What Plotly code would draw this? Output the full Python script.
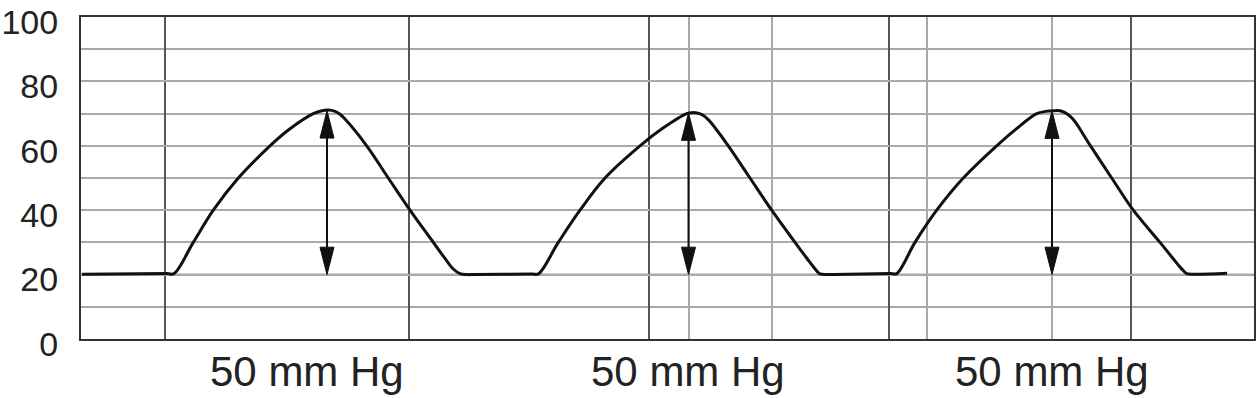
import plotly.graph_objects as go

# Pressure trace (time in arbitrary units, pressure in mm Hg)
time = [1, 86, 93, 112.3, 132.3, 157.3, 189, 209, 232.3, 240, 247, 254, 259, 264, 285.7, 307.3,
        329, 352.3, 364, 372, 379, 386, 393, 451, 457.3, 477.3, 499, 524, 559, 582, 605.7, 611,
        616, 622, 628, 634, 647.3, 669, 690.7, 714, 726, 734, 739, 746, 753, 810, 815.7, 834,
        855.7, 882.3, 915.7, 935, 955.7, 965, 972.3, 979, 984, 989, 994, 1009, 1030.7, 1052.3,
        1079, 1092, 1100, 1105.7, 1112, 1119, 1146]
pressure = [20.1, 20.3, 20.3, 30, 40, 50, 60, 65.3, 70, 70.8, 71.1, 70.7, 69.8, 68.3, 60, 50,
            40, 30, 25, 21.8, 20.3, 20.0, 20.0, 20.2, 20.2, 30, 40, 50, 60, 65.5, 70, 70.3,
            70.2, 69.5, 67.9, 65.6, 60, 50, 40, 30, 25, 21.8, 20.2, 20.0, 20.0, 20.3, 20.3, 30,
            40, 50, 60, 65.2, 70, 70.7, 70.9, 70.9, 70.3, 69.2, 67.5, 60.2, 50, 40,
            30, 25, 22, 20.3, 20.1, 20.1, 20.4]

# Pulse-pressure arrows
arrow_time = [246, 607.5, 971]
arrow_top = [70.9, 70.2, 70.8]
arrow_bottom = [20, 20, 20]

# Labels
label_time = [226, 607, 971]
label_text = ["50 mm Hg", "50 mm Hg", "50 mm Hg"]

# Grid
major_time_lines = [84, 328, 568, 808, 1050]
minor_time_lines = [607.5, 691, 846, 971]
y_ticks = [0, 20, 40, 60, 80, 100]
baseline = 20

FONT = "Liberation Sans, Arial, sans-serif"
head_len_y = 8.5   # in pressure units
head_half_x = 7    # in time units

fig = go.Figure()
fig.add_trace(go.Scatter(x=time, y=pressure, mode="lines",
                         line=dict(color="#111111", width=3, shape="spline", smoothing=1.0),
                         hoverinfo="skip", showlegend=False))

shapes = []
shapes.append(dict(type="line", xref="paper", x0=0, x1=1, yref="y", y0=baseline, y1=baseline,
                   line=dict(color="#555555", width=1.5), layer="below"))
for a, t, b in zip(arrow_time, arrow_top, arrow_bottom):
    shapes.append(dict(type="line", x0=a, x1=a, y0=b + head_len_y, y1=t - head_len_y,
                       line=dict(color="#111111", width=2)))
    shapes.append(dict(type="path",
                       path=f"M{a},{t} L{a - head_half_x},{t - head_len_y} L{a + head_half_x},{t - head_len_y} Z",
                       fillcolor="#111111", line=dict(color="#111111", width=1)))
    shapes.append(dict(type="path",
                       path=f"M{a},{b} L{a - head_half_x},{b + head_len_y} L{a + head_half_x},{b + head_len_y} Z",
                       fillcolor="#111111", line=dict(color="#111111", width=1)))

annotations = []
for x, txt in zip(label_time, label_text):
    annotations.append(dict(x=x, xref="x", y=0, yref="paper", text=txt, showarrow=False,
                            yanchor="middle", yshift=-32,
                            font=dict(family=FONT, size=42, color="#222222")))

fig.update_layout(
    width=1258, height=398,
    margin=dict(l=81, r=4, t=17, b=59, autoexpand=False),
    paper_bgcolor="white", plot_bgcolor="white",
    shapes=shapes, annotations=annotations,
    xaxis=dict(range=[0, 1173], showticklabels=False, ticks="", automargin=False,
               tickvals=major_time_lines, showgrid=True, gridcolor="#555555", gridwidth=1.5,
               minor=dict(tickvals=minor_time_lines, showgrid=True, gridcolor="#aaaaaa", gridwidth=1.5),
               zeroline=False, showline=True, mirror=True, linecolor="#333333", linewidth=2),
    yaxis=dict(range=[-0.02, 100.02], tickvals=y_ticks, ticks="", ticklabelstandoff=14,
               ticklabelshift=5, ticklabeloverflow="allow", automargin=False,
               tickfont=dict(family=FONT, size=34, color="#222222"),
               showgrid=True, gridcolor="#aaaaaa", gridwidth=1.5,
               minor=dict(dtick=10, showgrid=True, gridcolor="#aaaaaa", gridwidth=1.5),
               zeroline=False, showline=True, mirror=True, linecolor="#333333", linewidth=2),
)

fig.write_html("out.html")
